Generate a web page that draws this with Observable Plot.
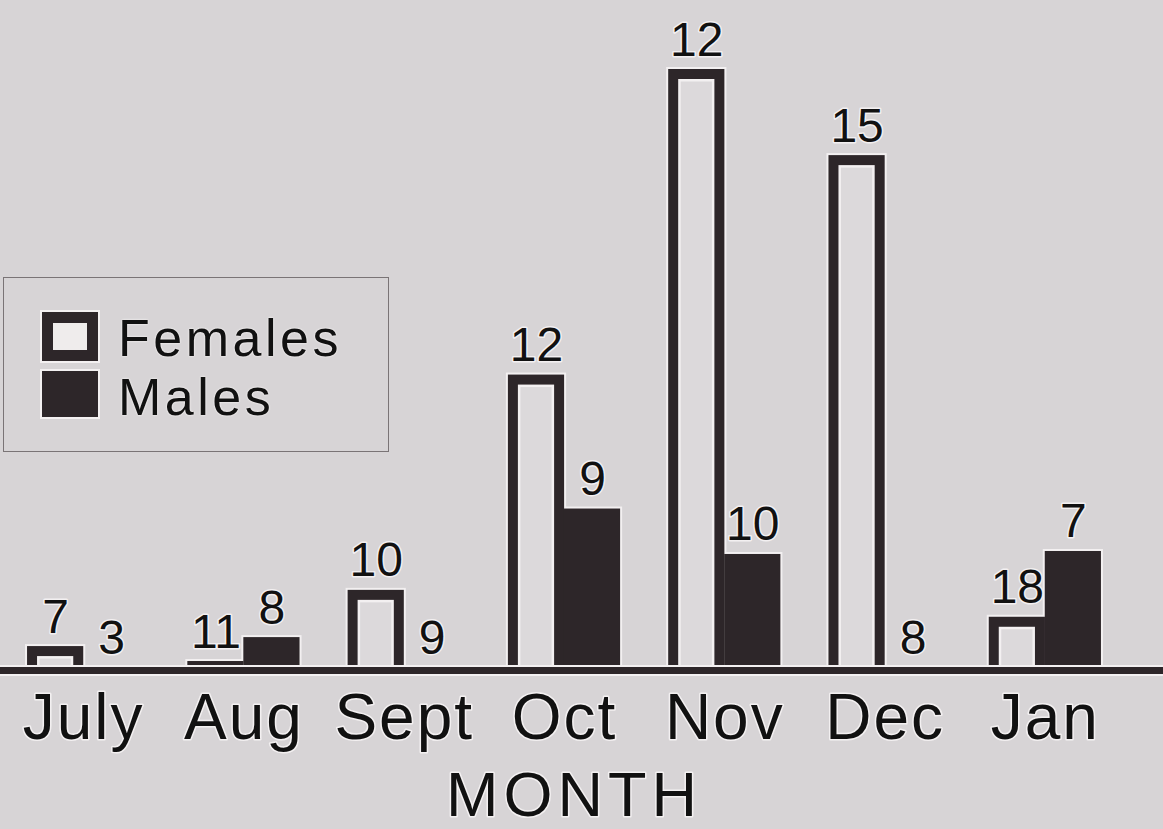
<!DOCTYPE html>
<html>
<head>
<meta charset="utf-8">
<script src="https://cdn.jsdelivr.net/npm/d3@7"></script>
<script src="https://cdn.jsdelivr.net/npm/@observablehq/plot@0.6"></script>
<style>
  html, body { margin: 0; padding: 0; background: #d7d4d6; }
  #wrap { position: relative; width: 1163px; height: 829px; overflow: hidden; background: #d7d4d6; }
  #chart svg text { paint-order: stroke; stroke: #f3f0f1; stroke-width: 3px; stroke-linejoin: round; }
  #chart g[aria-label="x-axis tick label"] text { letter-spacing: 2px; }
  #chart .month-title text { letter-spacing: 5px; }
  #legend {
    position: absolute; left: 3px; top: 277px; width: 386px; height: 175px;
    border: 1.5px solid #7a7476; box-sizing: border-box;
    font-family: "Liberation Sans", Arial, sans-serif; color: #111;
  }
  #legend .sw { position: absolute; left: 38px; width: 56px; box-sizing: border-box; box-shadow: 0 0 0 2px #f3f0f1; }
  #legend .sw.f { top: 34px; height: 49px; border: 11px solid #2d2629; background: #efecec; }
  #legend .sw.m { top: 93px; height: 46px; background: #2d2629; }
  #legend .lab { position: absolute; left: 114px; font-size: 52px; line-height: 52px; letter-spacing: 3.5px;
    text-shadow: 0 0 2px #f6f3f3, 0 0 2px #f6f3f3; white-space: nowrap; }
</style>
</head>
<body>
<div id="wrap">
  <div id="chart"></div>
  <div id="legend">
    <div class="sw f"></div><div class="lab" style="top:34px">Females</div>
    <div class="sw m"></div><div class="lab" style="top:93px">Males</div>
  </div>
</div>
<script>
// ---- data ----
const months = ["July", "Aug", "Sept", "Oct", "Nov", "Dec", "Jan"];
// bar heights (relative units, tallest bar = 100)
const femaleValues = [3.5, 1.0, 12.9, 48.9, 100, 85.6, 8.4];
const maleValues   = [0, 5.0, 0, 26.5, 18.9, 0, 19.4];
// numbers printed above the bars
const femaleN = [7, 11, 10, 12, 12, 15, 18];
const maleN   = [3, 8, 9, 9, 10, 8, 7];

const females = months.map((m, i) => ({month: m, value: femaleValues[i], n: femaleN[i]}));
const males   = months.map((m, i) => ({month: m, value: maleValues[i], n: maleN[i]}));

const DARK = "#2d2629", HALO = "#f3f0f1", BG = "#d7d4d6", INNER = "#dcd9db";

const fPos = females.filter(d => d.value > 0);
const mPos = males.filter(d => d.value > 0);
const fTall = females.filter(d => d.value >= 3);

const chart = Plot.plot({
  width: 1163,
  height: 829,
  marginTop: 69,
  marginBottom: 162,
  marginLeft: 0,
  marginRight: 0,
  style: {background: BG, fontFamily: "'Liberation Sans', Arial, sans-serif", color: "#111", overflow: "visible"},
  x: {domain: months, range: [3, 1125], paddingInner: 0.3, paddingOuter: 0.15, round: false},
  y: {domain: [0, 100], axis: null},
  marks: [
    // light halos around dark shapes
    Plot.barY(fPos, {x: "month", y: "value", fill: HALO, insetLeft: -2, insetRight: 54, insetTop: -2}),
    Plot.barY(mPos, {x: "month", y: "value", fill: HALO, insetLeft: 54, insetRight: -2, insetTop: -2}),
    // dark bars
    Plot.barY(fPos, {x: "month", y: "value", fill: DARK, insetRight: 56}),
    Plot.barY(mPos, {x: "month", y: "value", fill: DARK, insetLeft: 56}),
    // open interior of the female bars
    Plot.barY(fTall, {x: "month", y: "value", fill: HALO, insetLeft: 10, insetRight: 66, insetTop: 10}),
    Plot.barY(fTall, {x: "month", y: "value", fill: INNER, insetLeft: 12.5, insetRight: 68.5, insetTop: 12.5}),
    // baseline
    Plot.ruleY([0], {stroke: HALO, strokeWidth: 11, dy: 3}),
    Plot.ruleY([0], {stroke: DARK, strokeWidth: 7, dy: 3}),
    // counts above bars
    Plot.text(females, {x: "month", y: "value", text: "n", dx: -28, dy: -14, lineAnchor: "bottom", fontSize: 48, fill: "#111"}),
    Plot.text(males, {x: "month", y: "value", text: "n", dx: 28, dy: -14, lineAnchor: "bottom", fontSize: 48, fill: "#111"}),
    // month axis
    Plot.axisX({tickSize: 0, tickPadding: 26, fontSize: 64, label: null, fill: "#111"}),
    Plot.text(["MONTH"], {frameAnchor: "bottom", lineAnchor: "top", dy: 104, dx: -8, fontSize: 63, fill: "#111", className: "month-title"})
  ]
});
document.getElementById("chart").appendChild(chart);
</script>
</body>
</html>
